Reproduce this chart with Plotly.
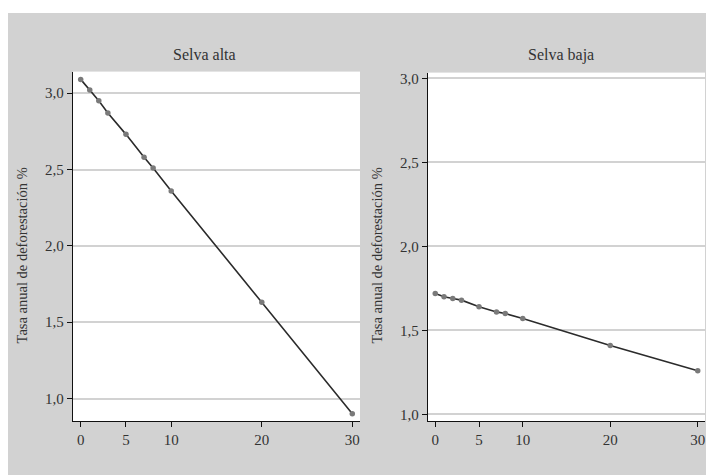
import plotly.graph_objects as go

years = [0, 1, 2, 3, 5, 7, 8, 10, 20, 30]
selva_alta = [3.09, 3.02, 2.95, 2.87, 2.73, 2.58, 2.51, 2.36, 1.63, 0.90]
selva_baja = [1.72, 1.70, 1.69, 1.68, 1.64, 1.61, 1.60, 1.57, 1.41, 1.26]
x_ticks = [0, 5, 10, 20, 30]
y_ticks = [1.0, 1.5, 2.0, 2.5, 3.0]
titles = ["Selva alta", "Selva baja"]
y_title = "Tasa anual de deforestación %"

OFF = 8  # page body margin offset
W, H = 714 - OFF, 475 - OFF
BG = "#d2d2d2"
FONT = "Liberation Serif"
TXT = "#333333"

fig = go.Figure()
for i, ys in enumerate([selva_alta, selva_baja]):
    xa = "x" if i == 0 else "x2"
    ya = "y" if i == 0 else "y2"
    fig.add_trace(go.Scatter(
        x=years, y=ys, xaxis=xa, yaxis=ya, mode="lines+markers",
        line=dict(color="#2b2b2b", width=1.6),
        marker=dict(color="#7a7a7a", size=5.5),
        showlegend=False, hoverinfo="skip"))

def px_x(p):
    return (p - OFF) / W

def px_y(p):
    return 1 - (p - OFF) / H

axis_common = dict(
    showline=True, linecolor="#111", linewidth=1.3, mirror=False,
    ticks="outside", ticklen=5, tickwidth=1, tickcolor="#111",
    tickfont=dict(family=FONT, size=15, color=TXT),
    zeroline=False,
)

fig.update_layout(
    width=W, height=H,
    margin=dict(l=0, r=0, t=0, b=0),
    paper_bgcolor=BG, plot_bgcolor="white",
    separators=",.",
    font=dict(family=FONT, size=14, color=TXT),
    xaxis=dict(domain=[px_x(73), px_x(360)], range=[-0.85, 30.85],
               tickvals=x_ticks, showgrid=False, anchor="y", **axis_common),
    yaxis=dict(domain=[px_y(421.7), px_y(70)], range=[0.853, 3.141],
               tickvals=y_ticks, tickformat=".1f", showgrid=True,
               gridcolor=BG, gridwidth=2, anchor="x", **axis_common),
    xaxis2=dict(domain=[px_x(428), px_x(705)], range=[-0.83, 30.83],
                tickvals=x_ticks, showgrid=False, anchor="y2", **axis_common),
    yaxis2=dict(domain=[px_y(421.7), px_y(71)], range=[0.96, 3.035],
                tickvals=y_ticks, tickformat=".1f", showgrid=True,
                gridcolor=BG, gridwidth=2, anchor="x2", **axis_common),
    shapes=[
        dict(type="rect", xref="paper", yref="paper", x0=-0.05, x1=1.05,
             y0=px_y(11), y1=1.05, fillcolor="white", line=dict(width=0), layer="below"),
    ],
)

anns = [
    dict(text=titles[0], x=px_x(204), y=px_y(53), size=16),
    dict(text=titles[1], x=px_x(561), y=px_y(53), size=16),
    dict(text=y_title, x=px_x(22), y=px_y(255), textangle=-90, size=14.5),
    dict(text=y_title, x=px_x(377), y=px_y(255), textangle=-90, size=14.5),
]
for a in anns:
    size = a.pop("size")
    fig.add_annotation(xref="paper", yref="paper", showarrow=False,
                       xanchor="center", yanchor="middle",
                       font=dict(family=FONT, size=size, color=TXT), **a)

fig.write_html("out.html")
